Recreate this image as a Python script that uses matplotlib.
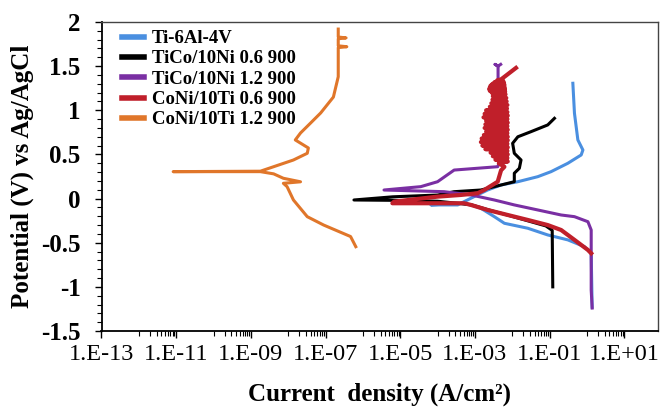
import numpy as np
import matplotlib
matplotlib.use('Agg')
import matplotlib.pyplot as plt
from matplotlib.ticker import FixedLocator, FuncFormatter, MultipleLocator

plt.rcParams['font.family'] = 'Liberation Serif'
plt.rcParams['axes.unicode_minus'] = False

# log10 of current density (A/cm2) and potential (V vs Ag/AgCl)
ti64_logi = [0.14, 0.114, -0.066, -0.511, -1.05, -1.585, -2.21, -2.48, -2.84, -3.107, -3.376, -4.18,
             -3.46, -3.29, -3.02, -2.66, -2.30, -1.85, -1.317, -0.96, -0.511, -0.154, -0.108, -0.243,
             -0.334, -0.377]
ti64_e = [-1.23, -0.62, -0.545, -0.468, -0.412, -0.336, -0.28, -0.205, -0.11, -0.072, -0.053, -0.072,
          -0.072, -0.035, 0.022, 0.097, 0.154, 0.191, 0.248, 0.305, 0.40, 0.494, 0.55, 0.664,
          0.966, 1.306]

tico06_logi = [-0.915, -0.93, -1.1, -1.6, -2.1, -2.62, -3.1, -4.0, -5.17, -6.24, -5.2, -4.0,
               -3.556, -2.84, -1.945, -1.945, -1.81, -1.765, -1.945, -1.99, -1.85, -1.497,
               -1.05, -0.87]
tico06_e = [-1.0, -0.36, -0.31, -0.25, -0.19, -0.13, -0.07, -0.03, -0.02, -0.016, 0.02, 0.04,
            0.078, 0.097, 0.191, 0.287, 0.343, 0.437, 0.513, 0.626, 0.70, 0.758,
            0.834, 0.909]

tico12_logi = [0.14, 0.114, 0.114, 0.026, -0.334, -0.691, -1.317, -1.945, -2.48, -3.107, -3.824,
               -5.435, -4.45, -4.0, -3.556, -2.39, -2.30, -2.46, -2.52, -2.46, -2.38, -2.38,
               -2.46, -2.38, -2.31]
tico12_e = [-1.24, -1.035, -0.356, -0.262, -0.205, -0.186, -0.129, -0.072, -0.016, 0.041, 0.078,
            0.097, 0.135, 0.191, 0.323, 0.361, 0.45, 0.664, 1.0, 1.23, 1.343, 1.50,
            1.52, 1.50, 1.52]

coni06_logi = [0.114, 0.026, -0.334, -0.691, -1.05, -1.585, -2.12, -2.66, -3.107, -3.29, -4.09,
               -5.21, -5.166, -4.0, -3.376, -2.93, -2.75, -2.39, -2.35, -2.30, -2.21,
               -2.36, -2.12, -2.45, -2.13, -2.52, -2.12, -2.58, -2.13, -2.72, -2.12, -2.80,
               -2.13, -2.84, -2.12, -2.82, -2.12, -2.76, -2.13, -2.70, -2.12, -2.74, -2.13,
               -2.72, -2.12, -2.70, -2.13, -2.77, -2.12, -2.74, -2.13, -2.70, -2.14, -2.60,
               -2.13, -2.56, -2.15, -2.53, -2.16, -2.52, -2.18, -2.55, -2.19, -2.60, -2.20,
               -2.62, -2.20, -2.60, -2.21, -2.58, -2.21, -2.53, -2.22, -2.47, -2.24, -2.40,
               -2.30, -1.90]
coni06_e = [-0.62, -0.582, -0.468, -0.356, -0.30, -0.242, -0.186, -0.129, -0.072, -0.053, -0.053,
            -0.053, -0.035, 0.022, 0.041, 0.06, 0.097, 0.191, 0.248, 0.32, 0.36,
            0.40, 0.42, 0.44, 0.46, 0.48, 0.50, 0.52, 0.54, 0.56, 0.58, 0.60,
            0.62, 0.64, 0.66, 0.68, 0.70, 0.72, 0.74, 0.76, 0.78, 0.80, 0.82,
            0.84, 0.86, 0.88, 0.90, 0.92, 0.94, 0.96, 0.98, 1.00, 1.02, 1.04,
            1.06, 1.08, 1.10, 1.12, 1.14, 1.16, 1.18, 1.20, 1.21, 1.22, 1.23,
            1.24, 1.25, 1.26, 1.27, 1.28, 1.29, 1.30, 1.31, 1.32, 1.33, 1.34,
            1.35, 1.48]

coni12_logi = [-6.19, -6.33, -7.05, -7.49, -7.86, -8.03, -8.13, -7.67, -8.13, -8.39, -8.745,
               -11.08, -8.745, -8.39, -7.86, -7.49, -7.46, -7.81, -7.67, -7.40, -7.13, -6.79,
               -6.66, -6.66, -6.43, -6.66, -6.66, -6.45, -6.66, -6.66]
coni12_e = [-0.545, -0.43, -0.30, -0.205, -0.016, 0.135, 0.173, 0.19, 0.23, 0.28, 0.305,
            0.305, 0.31, 0.361, 0.437, 0.513, 0.573, 0.664, 0.743, 0.856, 0.97, 1.15,
            1.38, 1.71, 1.72, 1.73, 1.81, 1.82, 1.83, 1.92]

series = [
    ('Ti-6Al-4V', ti64_logi, ti64_e, '#4a8fe0'),
    ('TiCo/10Ni 0.6 900', tico06_logi, tico06_e, 'black'),
    ('TiCo/10Ni 1.2 900', tico12_logi, tico12_e, '#7a2fa3'),
    ('CoNi/10Ti 0.6 900', coni06_logi, coni06_e, '#c01f2a'),
    ('CoNi/10Ti 1.2 900', coni12_logi, coni12_e, '#e0762a'),
]

fig = plt.figure(figsize=(6.62, 4.09), dpi=100)
ax = fig.add_axes([101.5 / 662, 1 - 331 / 409, (658 - 101.5) / 662, (331 - 22) / 409])

for name, logi, e, c in series:
    lw = 3.0 if name == 'CoNi/10Ti 0.6 900' else 2.2
    ax.plot(10 ** np.array(logi), e, color=c, lw=lw, label=name, solid_joinstyle='round')

ax.set_xscale('log')
ax.set_xlim(1e-13, 8e1)
ax.set_ylim(-1.5, 2)

major_x = [10.0 ** k for k in range(-13, 2, 2)]
minor_x = [m * 10.0 ** k for k in range(-12, 1, 2) for m in range(1, 10)]
ax.xaxis.set_major_locator(FixedLocator(major_x))
ax.xaxis.set_minor_locator(FixedLocator(minor_x))
ax.xaxis.set_major_formatter(FuncFormatter(lambda v, p: '1.E%+03d' % round(np.log10(v))))
ax.xaxis.set_minor_formatter(FuncFormatter(lambda v, p: ''))
ax.yaxis.set_major_locator(MultipleLocator(0.5))
ax.yaxis.set_minor_locator(MultipleLocator(0.1))
ax.yaxis.set_major_formatter(FuncFormatter(lambda v, p: '%g' % round(v, 1)))

ax.tick_params(which='major', direction='out', length=5, width=1, color='black')
ax.tick_params(which='minor', direction='out', length=3.5, width=0.8, color='black')
ax.tick_params(axis='x', labelsize=17.5, pad=4)
ax.tick_params(axis='y', labelsize=18, pad=10)
for t in ax.get_yticklabels():
    t.set_fontweight('bold')

for s in ['left', 'bottom']:
    ax.spines[s].set_color('black')
    ax.spines[s].set_linewidth(1.3)
for s in ['top', 'right']:
    ax.spines[s].set_color('#444444')
    ax.spines[s].set_linewidth(1.0)

ax.set_xlabel('Current  density (A/cm²)', fontsize=18, fontweight='bold', labelpad=13)
ax.set_ylabel('Potential (V) vs Ag/AgCl', fontsize=18, fontweight='bold', labelpad=5)

leg = ax.legend(loc='upper left', bbox_to_anchor=(122 / 662, 1 - 30 / 409), bbox_transform=fig.transFigure,
                frameon=False, borderpad=0, borderaxespad=0, handlelength=1.15, handletextpad=0.45,
                labelspacing=0.17, prop={'family': 'Liberation Serif', 'weight': 'bold', 'size': 13.5})
for h in leg.get_lines():
    h.set_linewidth(4)

plt.savefig('out.png', dpi=100)
plt.close()
